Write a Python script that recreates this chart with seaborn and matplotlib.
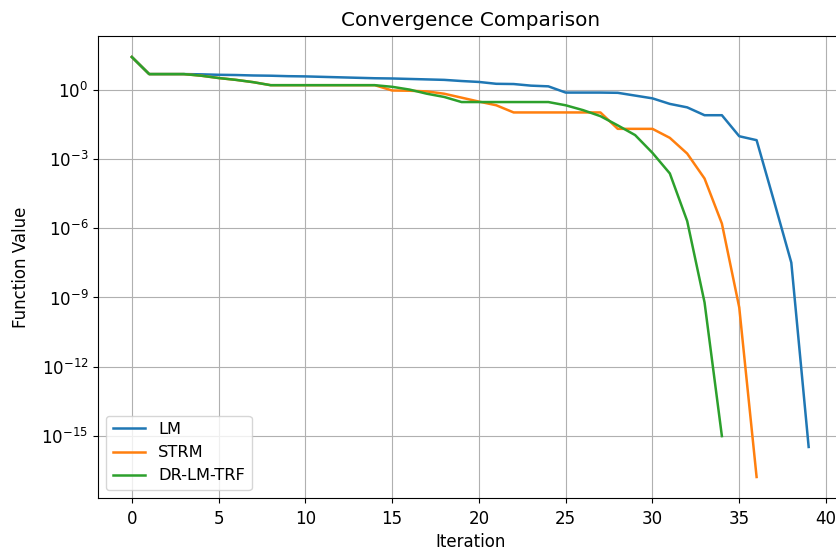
import numpy as np
import pandas as pd
import matplotlib
matplotlib.use("Agg")
import matplotlib.pyplot as plt
import seaborn as sns

# log10 of function values
lm_log = [1.41, 0.67, 0.67, 0.67, 0.66, 0.64, 0.63, 0.61, 0.60, 0.58,
          0.57, 0.55, 0.53, 0.51, 0.49, 0.48, 0.46, 0.44, 0.42, 0.37,
          0.33, 0.25, 0.24, 0.17, 0.14, -0.13, -0.13, -0.13, -0.14, -0.26,
          -0.38, -0.62, -0.77, -1.11, -1.11, -2.02, -2.19, -4.82, -7.49, -15.47]
strm_log = [1.41, 0.67, 0.67, 0.67, 0.60, 0.50, 0.42, 0.32, 0.19, 0.19,
            0.19, 0.19, 0.19, 0.19, 0.19, -0.04, -0.05, -0.08, -0.18, -0.35,
            -0.52, -0.68, -0.99, -0.99, -0.99, -0.99, -0.99, -0.99, -1.70, -1.70,
            -1.70, -2.09, -2.77, -3.85, -5.80, -9.43, -16.77]
drlm_log = [1.41, 0.67, 0.67, 0.67, 0.60, 0.50, 0.42, 0.32, 0.19, 0.19,
            0.19, 0.19, 0.19, 0.19, 0.19, 0.12, 0.00, -0.18, -0.32, -0.54,
            -0.54, -0.54, -0.54, -0.54, -0.54, -0.68, -0.89, -1.15, -1.55, -1.97,
            -2.74, -3.63, -5.69, -9.21, -15.00]

series = {"LM": lm_log, "STRM": strm_log, "DR-LM-TRF": drlm_log}
colors = {"LM": "#1f77b4", "STRM": "#ff7f0e", "DR-LM-TRF": "#2ca02c"}

rows = []
for name, vals in series.items():
    for i, v in enumerate(vals):
        rows.append({"Iteration": i, "Value": 10.0 ** v, "Method": name})
df = pd.DataFrame(rows)

fig = plt.figure(figsize=(8.36, 5.51), dpi=100)
ax = fig.add_axes([98 / 836, (551 - 498) / 551, (842.5 - 98) / 836, (498 - 36) / 551])

for name in series:
    sub = df[df["Method"] == name]
    sns.lineplot(data=sub, x="Iteration", y="Value", color=colors[name],
                 label=name, ax=ax, linewidth=1.8)

ax.set_yscale("log")
ax.grid(True, which="major")
ax.set_title("Convergence Comparison", fontsize=14.4, pad=7)
ax.set_xlabel("Iteration", fontsize=12, labelpad=4)
ax.set_ylabel("Function Value", fontsize=12, labelpad=8)
ax.set_xticks([0, 5, 10, 15, 20, 25, 30, 35, 40])
ax.tick_params(labelsize=12)
ax.tick_params(axis="x", pad=5)
ax.legend(loc="lower left", fontsize=11.7, handlelength=2.0)

fig.savefig("out.png", dpi=100)
